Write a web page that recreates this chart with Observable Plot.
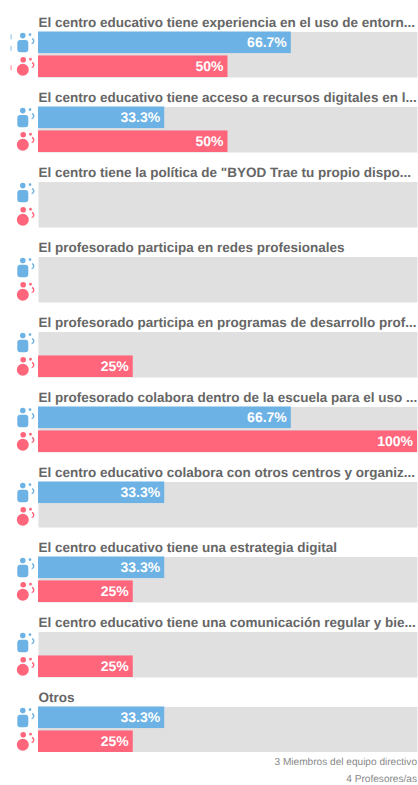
<!DOCTYPE html>
<html><head><meta charset="utf-8">
<script src="https://cdn.jsdelivr.net/npm/d3@7"></script>
<script src="https://cdn.jsdelivr.net/npm/@observablehq/plot@0.6"></script>
<style>
html,body{margin:0;padding:0;background:#fff;overflow:hidden}
#legend{font:10.1px "Liberation Sans",Arial,sans-serif;color:#888;text-align:right;padding-right:1px;padding-top:6.3px;text-rendering:geometricPrecision}
#legend div{height:10px;line-height:10px;margin-bottom:7.2px}
svg{display:block}
svg text{text-rendering:geometricPrecision}
</style></head><body>
<div id="chart"></div>
<div id="legend"></div>
<script>
const questions = [
  'El centro educativo tiene experiencia en el uso de entorn...',
  'El centro educativo tiene acceso a recursos digitales en l...',
  'El centro tiene la política de "BYOD Trae tu propio dispo...',
  'El profesorado participa en redes profesionales',
  'El profesorado participa en programas de desarrollo prof...',
  'El profesorado colabora dentro de la escuela para el uso ...',
  'El centro educativo colabora con otros centros y organiz...',
  'El centro educativo tiene una estrategia digital',
  'El centro educativo tiene una comunicación regular y bie...',
  'Otros'
];
const directivos = [66.7, 33.3, 0, 0, 0, 66.7, 33.3, 33.3, 0, 33.3];
const profesores = [50, 50, 0, 0, 25, 100, 0, 25, 25, 25];
const seriesNames = ['3 Miembros del equipo directivo', '4 Profesores/as'];
const colors = ['#6cb2e4', '#ff667c'];

const rows = questions.flatMap((q, i) => [
  {q, s: seriesNames[0], v: directivos[i]},
  {q, s: seriesNames[1], v: profesores[i]}
]);
const filled = rows.filter(d => d.v > 0);

function tail(c) {
  c.moveTo(9.4, -4.9);
  c.arc(8.3, -1.7, 3.4, -1.2, 1.35, false);
  c.arc(8.3, -1.7, 1.9, 1.35, -1.2, true);
  c.closePath();
}
const iconBlue = {draw(c) {
  c.moveTo(2.8, -7.2); c.arc(0, -7.2, 2.8, 0, 2 * Math.PI);
  c.moveTo(8.6, -8.2); c.arc(7.2, -8.2, 1.4, 0, 2 * Math.PI);
  const x0 = -5.5, x1 = 5.5, y0 = -2.9, y1 = 9.4, r = 3;
  c.moveTo(x0 + r, y0);
  c.arcTo(x1, y0, x1, y1, r); c.arcTo(x1, y1, x0, y1, r);
  c.arcTo(x0, y1, x0, y0, r); c.arcTo(x0, y0, x1, y0, r);
  c.closePath();
  tail(c);
}};
const iconRed = {draw(c) {
  c.moveTo(3.2, -7); c.arc(0.4, -7, 2.8, 0, 2 * Math.PI);
  c.moveTo(6, 3); c.arc(0, 3, 6, 0, 2 * Math.PI);
  c.moveTo(9.1, -7.5); c.arc(7.7, -7.5, 1.4, 0, 2 * Math.PI);
  tail(c);
}};
const clippedBlue = {draw(c) {
  c.rect(-0.5, -8.5, 1.2, 5); c.rect(-0.5, 3, 1.2, 5);
}};
const clippedRed = {draw(c) { c.rect(-0.5, -1.5, 1.2, 5); }};

const font = 'Liberation Sans';
const chart = Plot.plot({
  width: 418, height: 752,
  marginTop: 31.5, marginBottom: 0, marginLeft: 38, marginRight: 1,
  style: {background: 'white'},
  x: {domain: [0, 100], axis: null},
  y: {domain: seriesNames, axis: null, paddingInner: 0.1, paddingOuter: 0, round: false},
  fy: {domain: questions, axis: null, paddingInner: 0.393, paddingOuter: 0, round: false},
  color: {domain: seriesNames, range: colors},
  marks: [
    Plot.frame({fill: '#e0e0e0', stroke: null}),
    Plot.barX(filled, {x1: () => 0, x2: 'v', y: 's', fy: 'q', fill: 's'}),
    Plot.text(filled, {x: 'v', y: 's', fy: 'q', text: d => d.v + '%', textAnchor: 'end', dx: -4.5,
      fill: 'white', fontFamily: font, fontWeight: 700, fontSize: 14}),
    Plot.text(questions, {fy: d => d, text: d => d, frameAnchor: 'top-left', lineAnchor: 'bottom', dy: -5,
      fill: '#666', fontFamily: font, fontWeight: 700, fontSize: 13.5}),
    Plot.dot(questions, {fy: d => d, y: () => seriesNames[0], frameAnchor: 'left', dx: -15.7, symbol: iconBlue, r: 6, fill: colors[0], stroke: null}),
    Plot.dot(questions, {fy: d => d, y: () => seriesNames[1], frameAnchor: 'left', dx: -15.7, symbol: iconRed, r: 6, fill: colors[1], stroke: null}),
    Plot.dot(questions.slice(0, 1), {fy: d => d, y: () => seriesNames[0], frameAnchor: 'left', dx: -27.5, symbol: clippedBlue, r: 3, fill: colors[0], fillOpacity: 0.7, stroke: null}),
    Plot.dot(questions.slice(0, 1), {fy: d => d, y: () => seriesNames[1], frameAnchor: 'left', dx: -27.5, symbol: clippedRed, r: 3, fill: colors[1], fillOpacity: 0.7, stroke: null})
  ]
});
document.getElementById('chart').append(chart);
const legend = document.getElementById('legend');
for (const s of seriesNames) {
  const d = document.createElement('div');
  d.textContent = s;
  legend.append(d);
}
</script>
</body></html>
